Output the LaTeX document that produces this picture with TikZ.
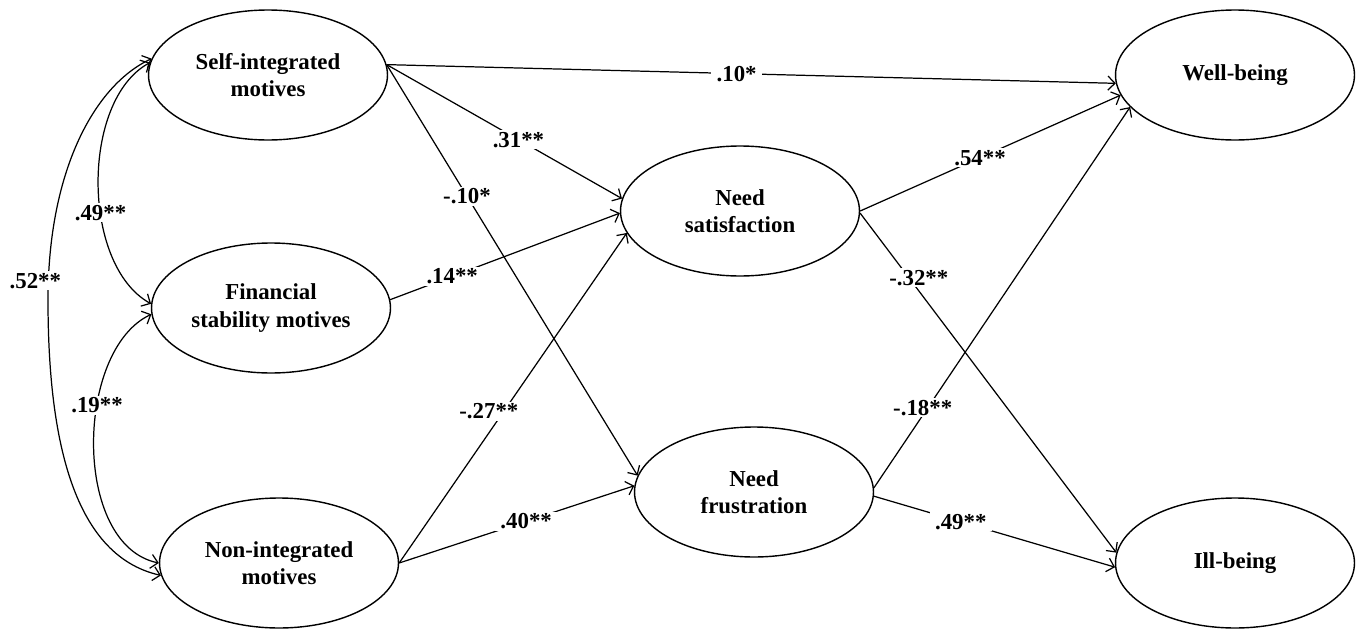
\documentclass[tikz,border=0pt]{standalone}
\usepackage{fontspec}
\setmainfont{Liberation Serif}
\usetikzlibrary{shapes.geometric,arrows.meta}

\begin{document}
\begin{tikzpicture}[x=0.02cm,y=-0.02cm,
    >={Straight Barb[length=4pt,width=8pt]},
    var/.style={ellipse,draw,line width=0.8pt,minimum width=4.78cm,minimum height=2.6cm,
        inner sep=0pt,align=center,font=\fontsize{13}{15.5}\selectfont\bfseries},
    lbl/.style={fill=white,inner xsep=3pt,inner ysep=1pt,font=\fontsize{13}{15.5}\selectfont\bfseries},
    eff/.style={line width=0.7pt,->},
    cov/.style={line width=0.7pt,<->}]
    \useasboundingbox (0,0) rectangle (1363,629);

    \node[var] (si) at (268,75)  {Self-integrated\\motives};
    \node[var] (fs) at (271,308) {Financial\\stability motives};
    \node[var] (ni) at (279,563) {Non-integrated\\motives};
    \node[var] (ns) at (740,211) {Need\\satisfaction};
    \node[var] (nf) at (754,492) {Need\\frustration};
    \node[var] (wb) at (1235,75) {Well-being};
    \node[var] (ib) at (1235,563) {Ill-being};

    % correlations among motives
    \draw[cov] (si.174) .. controls (81,100) and (81,265) .. node[lbl,pos=0.6] {.49**} (fs.178);
    \draw[cov] (fs.183) .. controls (75,350) and (72,545) .. node[lbl,pos=0.38] {.19**} (ni.180);
    \draw[cov] (si.172) .. controls (95,85) and (48,170) .. node[lbl,pos=0.95,xshift=-0.26cm] {.52**} (48,300)
        .. controls (48,430) and (70,555) .. (ni.186);

    % paths
    \draw[eff] (si.5) -- node[lbl,pos=0.48] {.10*} (wb.184);
    \draw[eff] (si.5) -- node[lbl,pos=0.56] {.31**} (ns.174);
    \draw[eff] (si.5) -- node[lbl,pos=0.32] {-.10*} (nf.172);
    \draw[eff] (fs.4) -- node[lbl,pos=0.27] {.14**} (ns.181);
    \draw[eff] (ni.0) -- node[lbl,pos=0.46,xshift=-0.3cm] {-.27**} (ns.191);
    \draw[eff] (ni.0) -- node[lbl,pos=0.54] {.40**} (nf.177);
    \draw[eff] (ns.0) -- node[lbl,pos=0.46] {.54**} (wb.190);
    \draw[eff] (ns.359) -- node[lbl,pos=0.19,xshift=0.2cm] {-.32**} (ib.175);
    \draw[eff] (nf.2) -- node[lbl,pos=0.21,xshift=-0.1cm] {-.18**} (wb.197);
    \draw[eff] (nf.358) -- node[lbl,pos=0.36] {.49**} (ib.182);
\end{tikzpicture}
\end{document}
